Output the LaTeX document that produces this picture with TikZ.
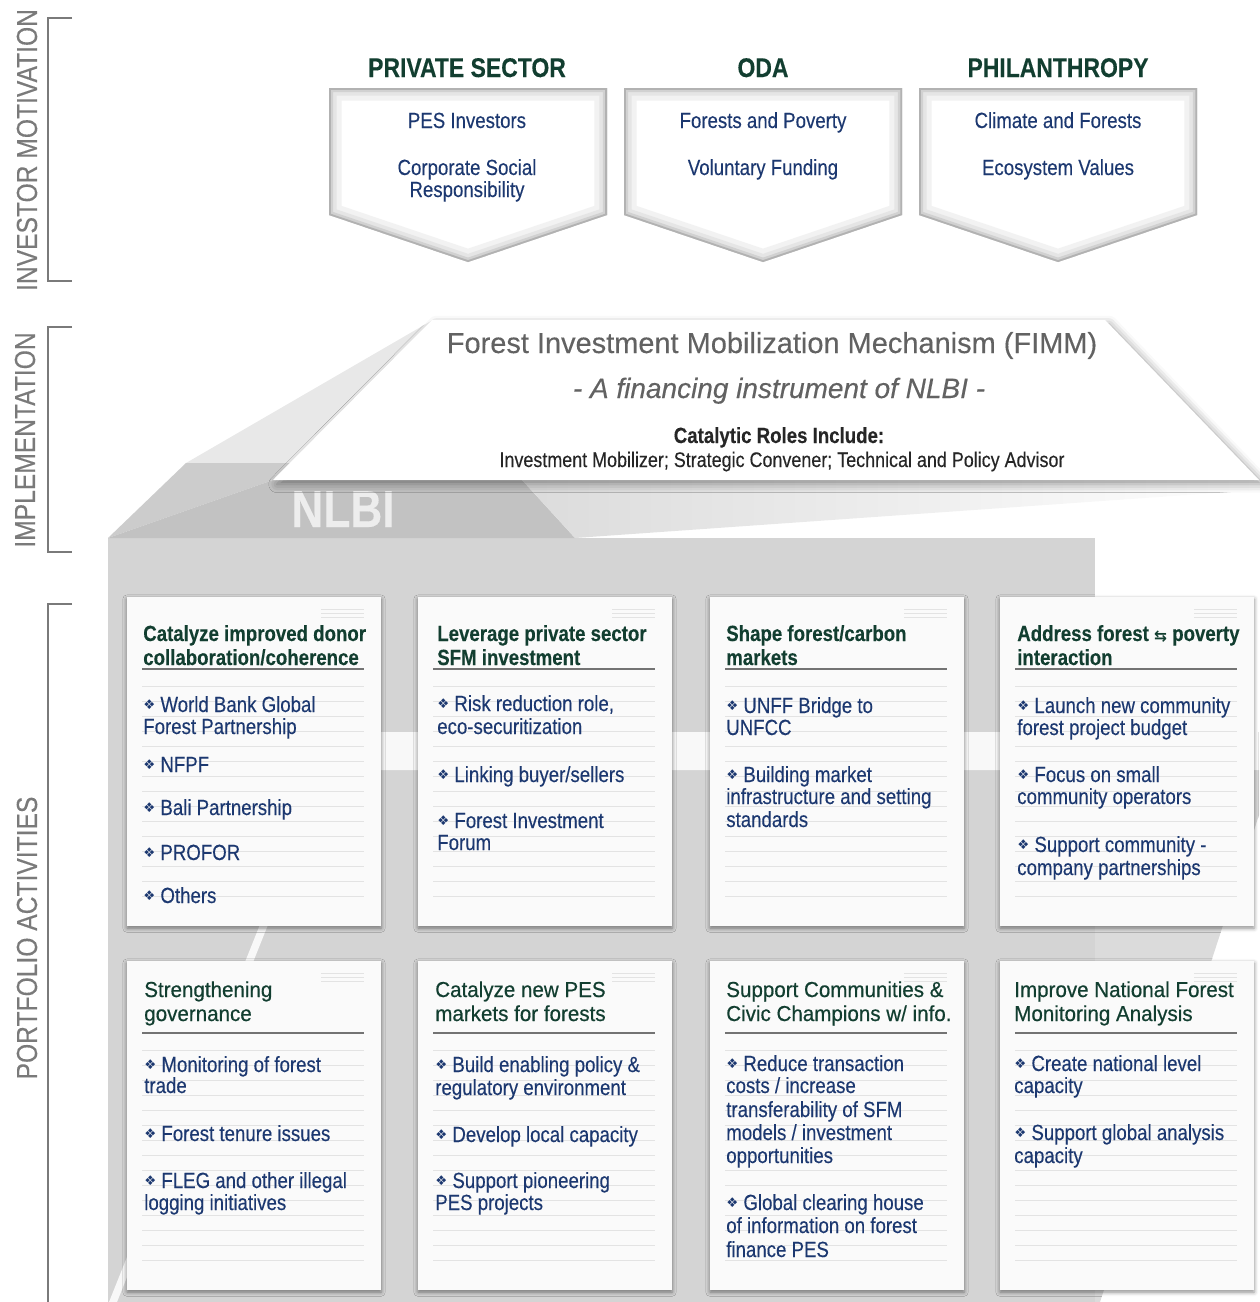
\documentclass[tikz,border=0pt]{standalone}
\usepackage{fontspec}
\setmainfont{Liberation Sans}[FakeStretch=0.85,FakeBold=0.25]
\newfontfamily\titlefont{Liberation Sans}[FakeBold=0.3]
\newfontfamily\headtwofont{Liberation Sans}[FakeStretch=0.95,FakeBold=0.5]
\newfontfamily\symfont{DejaVu Sans}
\usetikzlibrary{shadows.blur}
\definecolor{headgreen}{RGB}{18,62,48}
\definecolor{itemblue}{RGB}{28,56,112}
\definecolor{fimmgray}{RGB}{98,98,98}
\definecolor{sidegray}{RGB}{122,122,122}
\newcommand{\bul}{{\symfont\fontsize{9.5pt}{10pt}\selectfont\raisebox{1.6pt}{❖}}\ }
\begin{document}
\begin{tikzpicture}[x=0.025cm, y=-0.025cm,
	side/.style={rotate=90, text=sidegray, font=\fontsize{20.6pt}{22pt}\selectfont},
	topic/.style={anchor=base, text=headgreen, font=\bfseries\fontsize{19.2pt}{21pt}\selectfont},
	motive/.style={anchor=base, text=itemblue, font=\fontsize{15.6pt}{17pt}\selectfont},
	head/.style={anchor=base west, inner sep=0pt, text=headgreen, font=\bfseries\fontsize{15.6pt}{17pt}\selectfont},
	headtwo/.style={anchor=base west, inner sep=0pt, text=headgreen, font=\headtwofont\fontsize{15.4pt}{17pt}\selectfont},
	item/.style={anchor=base west, inner sep=0pt, text=itemblue, font=\fontsize{15.6pt}{17pt}\selectfont},
	rule/.style={black!11, line width=0.6pt},
	card/.style={fill=black!2, blur shadow={shadow xshift=0pt, shadow yshift=-1.5pt, shadow blur radius=3pt, shadow opacity=45}},
	pent/.style={insert path={(#1,88) -- (#1+278,88) -- (#1+278,215) -- (#1+139,262) -- (#1,215) -- cycle}},
	bracket/.style={sidegray, line width=1.2pt}]
	\useasboundingbox (0,0) rectangle (1259,1302);
	% Seitenbeschriftung links
	\node[side] (motiv) at (27,150) {INVESTOR MOTIVATION};
	\node[side] (impl) at (25,440) {IMPLEMENTATION};
	\node[side] (portf) at (27,938) {PORTFOLIO ACTIVITIES};
	\draw[bracket] (72,18) -- (48,18) -- (48,281) -- (72,281);
	\draw[bracket] (72,327) -- (48,327) -- (48,552) -- (72,552);
	\draw[bracket] (72,604) -- (48,604) -- (48,1302);
	% Investoren oben
	\foreach \x in {329,624,919} {
		\begin{scope}
			\clip[pent=\x];
			\fill[white, pent=\x];
			\draw[black!5, line width=18pt, pent=\x];
			\draw[black!10, line width=11pt, pent=\x];
			\draw[black!18, line width=6pt, pent=\x];
			\draw[black!30, line width=2.5pt, pent=\x];
		\end{scope}
	}
	\node[topic] (priv) at (467,77) {PRIVATE SECTOR};
	\node[topic] (oda) at (763,77) {ODA};
	\node[topic] (phil) at (1058,77) {PHILANTHROPY};
	\node[motive] (pes) at (467,128) {PES Investors};
	\node[motive] (csr1) at (467,175) {Corporate Social};
	\node[motive] (csr2) at (467,197) {Responsibility};
	\node[motive] (fpov) at (763,128) {Forests and Poverty};
	\node[motive] (vfund) at (763,175) {Voluntary Funding};
	\node[motive] (clim) at (1058,128) {Climate and Forests};
	\node[motive] (eco) at (1058,175) {Ecosystem Values};
	% NLBI Kasten
	\fill[black!17] (108,538) rectangle (1095,1302);
	\fill[black!14] (1095,770) -- (1259,770) -- (1259,815) -- (1100,1302) -- (1095,1302) -- cycle;
	\fill[white, opacity=.85] (337,732) -- (1259,732) -- (1259,770) -- (330,770) -- (117,1302) -- (109,1302) -- cycle;
	\fill[black!9] (431,321) -- (290,463) -- (186,463) -- cycle;
	\fill[black!20] (186,463) -- (290,463) -- (273,480) -- (108,538) -- cycle;
	\fill[black!24] (108,538) -- (273,480) -- (522,480) -- (575,538) -- cycle;
	\shade[left color=black!14, right color=white] (522,480) -- (1259,480) -- (1259,490) -- (575,538) -- cycle;
	\node[anchor=base, text=black!7, font=\bfseries\fontsize{37pt}{40pt}\selectfont] (nlbi) at (343,527) {NLBI};
	% FIMM
	\fill[white, blur shadow={shadow xshift=3pt, shadow yshift=-3pt, shadow blur radius=6pt}] (432,320) -- (1105,320) -- (1259,480) -- (273,480) -- cycle;
	\node[anchor=base, text=fimmgray, font=\titlefont\fontsize{20.6pt}{22pt}\selectfont] (fimm) at (772,353) {Forest Investment Mobilization Mechanism (FIMM)};
	\node[anchor=base, text=fimmgray, font=\titlefont\itshape\fontsize{19.9pt}{22pt}\selectfont] (instr) at (779,398) {- A financing instrument of NLBI -};
	\node[anchor=base, text=black!85, font=\bfseries\fontsize{15.6pt}{17pt}\selectfont] (roles) at (779,443) {Catalytic Roles Include:};
	\node[anchor=base, text=black!85, font=\fontsize{15pt}{17pt}\selectfont] (rolelist) at (782,467) {Investment Mobilizer; Strategic Convener; Technical and Policy Advisor};
	% Karten
	\foreach \x in {127,418,710,1000} {
		\fill[card] (\x,597) rectangle (\x+254,926);
		\fill[card] (\x,961) rectangle (\x+254,1290);
	}
	\foreach \x in {127,418,710,1000}
		\foreach \y in {597,961} {
			\foreach \k in {0,...,14}
				\draw[rule] (\x+15,\y+89+15*\k) -- (\x+237,\y+89+15*\k);
			\foreach \k in {12,16,20}
				\draw[rule] (\x+194,\y+\k) -- (\x+237,\y+\k);
			\draw[black!55, line width=1.1pt] (\x+15,\y+72) -- (\x+237,\y+72);
		}
	% Karte 1
	\foreach \yy/\t [count=\i] in {641/Catalyze improved donor, 665/{collaboration/coherence}}
		\node[head] (h1-\i) at (143,\yy) {\t};
	\foreach \yy/\t [count=\i] in {712/{\bul World Bank Global}, 734/Forest Partnership, 772/{\bul NFPF}, 815/{\bul Bali Partnership}, 860/{\bul PROFOR}, 903/{\bul Others}}
		\node[item] (t1-\i) at (143,\yy) {\t};
	% Karte 2
	\foreach \yy/\t [count=\i] in {641/Leverage private sector, 665/SFM investment}
		\node[head] (h2-\i) at (437,\yy) {\t};
	\foreach \yy/\t [count=\i] in {711/{\bul Risk reduction role,}, 734/eco-securitization, 782/{\bul Linking buyer/sellers}, 828/{\bul Forest Investment}, 850/Forum}
		\node[item] (t2-\i) at (437,\yy) {\t};
	% Karte 3
	\foreach \yy/\t [count=\i] in {641/{Shape forest/carbon}, 665/markets}
		\node[head] (h3-\i) at (726,\yy) {\t};
	\foreach \yy/\t [count=\i] in {713/{\bul UNFF Bridge to}, 735/UNFCC, 782/{\bul Building market}, 804/infrastructure and setting, 827/standards}
		\node[item] (t3-\i) at (726,\yy) {\t};
	% Karte 4
	\foreach \yy/\t [count=\i] in {641/{Address forest {\symfont\fontsize{11pt}{11pt}\selectfont ⇆} poverty}, 665/interaction}
		\node[head] (h4-\i) at (1017,\yy) {\t};
	\foreach \yy/\t [count=\i] in {713/{\bul Launch new community}, 735/forest project budget, 782/{\bul Focus on small}, 804/community operators, 852/{\bul Support community -}, 875/company partnerships}
		\node[item] (t4-\i) at (1017,\yy) {\t};
	% Karte 5
	\foreach \yy/\t [count=\i] in {997/Strengthening, 1021/governance}
		\node[headtwo] (h5-\i) at (144,\yy) {\t};
	\foreach \yy/\t [count=\i] in {1072/{\bul Monitoring of forest}, 1093/trade, 1141/{\bul Forest tenure issues}, 1188/{\bul FLEG and other illegal}, 1210/logging initiatives}
		\node[item] (t5-\i) at (144,\yy) {\t};
	% Karte 6
	\foreach \yy/\t [count=\i] in {997/Catalyze new PES, 1021/markets for forests}
		\node[headtwo] (h6-\i) at (435,\yy) {\t};
	\foreach \yy/\t [count=\i] in {1072/{\bul Build enabling policy \&}, 1095/regulatory environment, 1142/{\bul Develop local capacity}, 1188/{\bul Support pioneering}, 1210/PES projects}
		\node[item] (t6-\i) at (435,\yy) {\t};
	% Karte 7
	\foreach \yy/\t [count=\i] in {997/{Support Communities \&}, 1021/{Civic Champions w/ info.}}
		\node[headtwo] (h7-\i) at (726,\yy) {\t};
	\foreach \yy/\t [count=\i] in {1071/{\bul Reduce transaction}, 1093/{costs / increase}, 1117/transferability of SFM, 1140/{models / investment}, 1163/opportunities, 1210/{\bul Global clearing house}, 1233/of information on forest, 1257/finance PES}
		\node[item] (t7-\i) at (726,\yy) {\t};
	% Karte 8
	\foreach \yy/\t [count=\i] in {997/Improve National Forest, 1021/Monitoring Analysis}
		\node[headtwo] (h8-\i) at (1014,\yy) {\t};
	\foreach \yy/\t [count=\i] in {1071/{\bul Create national level}, 1093/capacity, 1140/{\bul Support global analysis}, 1163/capacity}
		\node[item] (t8-\i) at (1014,\yy) {\t};
\end{tikzpicture}
\end{document}
